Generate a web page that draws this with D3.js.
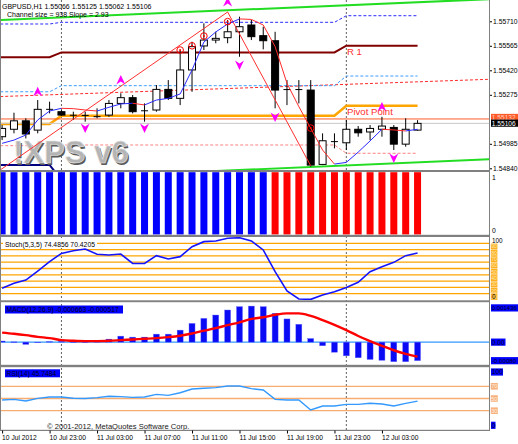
<!DOCTYPE html>
<html><head><meta charset="utf-8">
<script src="https://cdn.jsdelivr.net/npm/d3@7"></script>
<style>body{margin:0;background:#fff}svg{display:block}</style>
</head><body>
<script>
// ---------------- DATA ----------------
const symbolTitle = "GBPUSD,H1  1.55066 1.55125 1.55062 1.55106";
const channelTitle = "Channel size = 938 Slope = 2.93";
const opens  = [1.55027,1.55071,1.55121,1.55066,1.55190,1.55175,1.55155,1.55156,1.55145,1.55155,1.55224,1.55258,1.55180,1.55185,1.55307,1.55254,1.55422,1.55564,1.55599,1.55613,1.55648,1.55688,1.55625,1.55595,1.55305,1.55307,1.55303,1.54863,1.54997,1.54991,1.55071,1.55055,1.55071,1.55082,1.54983,1.55066];
const highs  = [1.55096,1.55169,1.55136,1.55244,1.55234,1.55185,1.55175,1.55175,1.55195,1.55244,1.55284,1.55274,1.55224,1.55333,1.55362,1.55540,1.55589,1.55698,1.55648,1.55718,1.55737,1.55718,1.55678,1.55648,1.55362,1.55362,1.55362,1.55047,1.55047,1.55126,1.55090,1.55096,1.55145,1.55096,1.55136,1.55125];
const lows   = [1.55007,1.55047,1.55017,1.55047,1.55165,1.55150,1.55126,1.55116,1.55136,1.55145,1.55195,1.55165,1.55116,1.55175,1.55244,1.55214,1.55293,1.55540,1.55580,1.55580,1.55500,1.55599,1.55544,1.55195,1.55214,1.55224,1.54850,1.54859,1.54958,1.54948,1.55027,1.55007,1.55027,1.54948,1.54968,1.55062];
const closes = [1.55076,1.55121,1.55043,1.55189,1.55188,1.55155,1.55153,1.55150,1.55146,1.55224,1.55258,1.55175,1.55181,1.55307,1.55254,1.55422,1.55560,1.55599,1.55609,1.55648,1.55678,1.55619,1.55595,1.55303,1.55307,1.55305,1.54859,1.55003,1.54999,1.55071,1.55050,1.55076,1.55090,1.54983,1.55071,1.55106];
const maValues = [1.54988,1.55007,1.55037,1.55126,1.55179,1.55195,1.55193,1.55185,1.55179,1.55201,1.55221,1.55225,1.55215,1.55244,1.55254,1.55280,1.55422,1.55587,1.55647,1.55694,1.55724,1.55721,1.55688,1.55560,1.55343,1.55205,1.55077,1.54948,1.54865,1.54875,1.54936,1.55002,1.55071,1.55067,1.55061,1.55071];
const zigzagBars = [-1, 19, 26];
const zigzagPrices = [1.54789, 1.55765, 1.54855];
const circleBars = [15, 16, 17, 19, 26];
const circlePrices = [1.55540, 1.55565, 1.55623, 1.55708, 1.55078];
const upArrowBars = [3, 10, 19, 32];
const upArrowPrices = [1.55293, 1.55362, 1.55824, 1.55203];
const downArrowBars = [7, 12, 20, 23, 33];
const downArrowPrices = [1.55078, 1.55078, 1.55451, 1.55143, 1.54901];
// daily levels (day of 10 Jul, 11 Jul, 12 Jul)
const dayStartBars = [0, 5, 29];
const levelR2 = [1.55694, 1.55704, 1.55743];
const levelR1 = [1.55497, 1.55526, 1.55566];
const levelM2 = [1.55293, 1.55329, 1.55386];
const levelPP = [1.55102, 1.55151, 1.55210];
const levelM1 = [1.54974, 1.54978, 1.54929];
const levelS1 = [1.54860, 1.54771, 1.54771];
const channelTop0 = 1.55718, channelSlope = 0.0000300, channelWidth = 0.00948;
const midLine0 = 1.55265, midSlope = 0.0000248;
const hLinePrice = 1.55132;
const bidPrice = 1.55106;
const priceTicks = [1.55710, 1.55565, 1.55420, 1.55275, 1.54985, 1.54840];
const trendSignal = [1,1,1,1,1,1,1,1,1,1,1,1,1,1,1,1,1,1,1,1,1,1,1,-1,-1,-1,-1,-1,-1,-1,-1,-1,-1,-1,-1,-1];
const stochValues = [18.5,26.5,31.7,46,60.8,74,78.3,81,72.5,71.4,73,58,58,70.4,65,68.8,84.7,92.6,93.7,97.9,98.9,93.7,79.4,45,14.3,1.6,1,8,13.2,20,28,45,52.9,59.8,70.4,74.4856];
const stochSignalLast = 70.4205;
const stochLevels = [10,20,30,40,50,60,70,80,90];
const macdHist = [0.00004,0.00001,-0.00008,0.00000,0.00002,0.00003,0.00001,0.00001,0.00002,0.000108,0.000215,0.00018,0.00018,0.000287,0.000287,0.00043,0.00067,0.00085,0.00097,0.00115,0.00127,0.00129,0.00127,0.00103,0.00083,0.00064,0.00013,-0.00013,-0.00036,-0.00049,-0.00056,-0.00062,-0.00065,-0.00070,-0.00070,-0.000663];
const macdSignal = [0.00034,0.00030,0.00025,0.00019,0.000144,0.000072,0.000048,0.000036,0.000036,0.000048,0.000072,0.000096,0.00012,0.000144,0.00018,0.00023,0.00031,0.00041,0.0005,0.00061,0.00071,0.00083,0.00089,0.00098,0.00103,0.00103,0.00094,0.00079,0.00062,0.00043,0.00022,0.000036,-0.00013,-0.00029,-0.00042,-0.000517];
const rsiValues = [47.5,48.6,45.9,50.3,52.5,52.5,50.3,50,51.4,53.6,53,51.9,52.5,56.8,55.2,59.5,65.6,66.7,67.8,70.5,70.5,66.1,63.9,48.6,47.5,47.5,31.1,37.7,37.7,40.4,40.4,42.1,41,37.7,42.1,45.7484];
const rsiLevels = [70, 50, 30];
const timeTickBars = [0,4,8,12,16,20,24,28,32];
const timeTickLabels = ["10 Jul 2012","10 Jul 23:00","11 Jul 03:00","11 Jul 07:00","11 Jul 11:00","11 Jul 15:00","11 Jul 19:00","11 Jul 23:00","12 Jul 03:00"];
const separatorBars = [5, 29];

// ---------------- LAYOUT ----------------
const W = 518, H = 444, PR = 489;
const FONT = "'Liberation Sans', Arial, sans-serif";
const svg = d3.select("body").append("svg").attr("width", W).attr("height", H)
  .style("font-family", FONT);
const n = opens.length;
const x = d3.scaleLinear().domain([0, 35]).range([2.1, 417.55]);
const yMain = d3.scaleLinear().domain([1.54830, 1.55836]).range([170, 0]);
const ySig = d3.scaleLinear().domain([0, 1]).range([234.6, 172.2]);
const ySto = d3.scaleLinear().domain([0, 100]).range([300, 237]);
const yMacd = d3.scaleLinear().domain([-0.0008, 0.001436]).range([364.5, 302]);
const yRsi = d3.scaleLinear().domain([0, 100]).range([429, 368]);

const defs = svg.append("defs");
function clip(id, y0, y1) {
  defs.append("clipPath").attr("id", id).append("rect").attr("x", 1).attr("y", y0).attr("width", PR - 1).attr("height", y1 - y0);
  return svg.append("g").attr("clip-path", `url(#${id})`);
}
const dayOf = i => (i >= dayStartBars[2] ? 2 : i >= dayStartBars[1] ? 1 : 0);

// separators (drawn first, under everything)
const sepG = svg.append("g");
separatorBars.forEach(b => {
  sepG.append("line").attr("x1", x(b)).attr("x2", x(b)).attr("y1", 0).attr("y2", 430)
    .attr("stroke", "#606060").attr("stroke-width", 1).attr("stroke-dasharray", "2,2");
});

// ---------------- MAIN PANEL ----------------
const gm = clip("cm", 0, 170);
const lineP = d3.line().x(d => x(d[0])).y(d => yMain(d[1]));
function levelLine(levels, color, width, dash) {
  const pts = [[-1, levels[0]]].concat(d3.range(n).map(i => [i, levels[dayOf(i)]]));
  gm.append("path").attr("d", lineP(pts)).attr("fill", "none").attr("stroke", color)
    .attr("stroke-width", width).attr("stroke-dasharray", dash || null);
}
const chBars = [-1, 42];
gm.append("path").attr("d", lineP(chBars.map(b => [b, channelTop0 + channelSlope * b])))
  .attr("stroke", "#22dd22").attr("stroke-width", 2).attr("fill", "none");
gm.append("path").attr("d", lineP(chBars.map(b => [b, channelTop0 - channelWidth + channelSlope * b])))
  .attr("stroke", "#22dd22").attr("stroke-width", 2).attr("fill", "none");
gm.append("path").attr("d", lineP(chBars.map(b => [b, midLine0 + midSlope * b])))
  .attr("stroke", "#ff2a2a").attr("stroke-width", 1).attr("stroke-dasharray", "3,2").attr("fill", "none");

levelLine(levelR2, "#2a2aff", 1, "3,2");
levelLine(levelM2, "#3c9cff", 1, "3,2");
levelLine(levelM1, "#ff8080", 1, "3,2");
levelLine(levelR1, "#800000", 2);
levelLine(levelPP, "#ffa500", 2.5);
levelLine(levelS1, "#000080", 2);

gm.append("line").attr("x1", 0).attr("x2", PR).attr("y1", yMain(hLinePrice)).attr("y2", yMain(hLinePrice))
  .attr("stroke", "#ff5a28").attr("stroke-width", 1);
gm.append("line").attr("x1", 0).attr("x2", PR).attr("y1", yMain(bidPrice)).attr("y2", yMain(bidPrice))
  .attr("stroke", "#c8c8c8").attr("stroke-width", 1);

// watermark
const wm = gm.append("g").attr("font-family", FONT).attr("font-weight", "bold").attr("font-size", 31);
wm.append("text").attr("x", 14.5).attr("y", 164.5).attr("fill", "#5a5a5a").text("!XPS v6");
wm.append("text").attr("x", 13).attr("y", 163).attr("fill", "#b4b4b4").attr("stroke", "#e8e8e8").attr("stroke-width", 0.6).text("!XPS v6");

// candles
const cg = gm.append("g");
for (let i = 0; i < n; i++) {
  const cx = x(i), o = opens[i], c = closes[i];
  cg.append("line").attr("x1", cx).attr("x2", cx).attr("y1", yMain(highs[i])).attr("y2", yMain(lows[i]))
    .attr("stroke", "#000").attr("stroke-width", 1);
  const top = yMain(Math.max(o, c)), bot = yMain(Math.min(o, c));
  if (bot - top < 1.2) {
    cg.append("line").attr("x1", cx - 3.5).attr("x2", cx + 3.5).attr("y1", (top + bot) / 2).attr("y2", (top + bot) / 2)
      .attr("stroke", "#000").attr("stroke-width", 1);
  } else {
    cg.append("rect").attr("x", cx - 3.5).attr("y", top).attr("width", 7).attr("height", bot - top)
      .attr("fill", c >= o ? "#fff" : "#000").attr("stroke", "#000").attr("stroke-width", 1);
  }
}

gm.append("path").attr("d", lineP(zigzagBars.map((b, k) => [b, zigzagPrices[k]])))
  .attr("fill", "none").attr("stroke", "#ff3030").attr("stroke-width", 1);
for (let i = 0; i < n - 1; i++) {
  gm.append("line").attr("x1", x(i)).attr("x2", x(i + 1)).attr("y1", yMain(maValues[i])).attr("y2", yMain(maValues[i + 1]))
    .attr("stroke", maValues[i + 1] >= maValues[i] ? "#2a2aff" : "#ff2a2a").attr("stroke-width", 1);
}
circleBars.forEach((b, k) => {
  gm.append("circle").attr("cx", x(b)).attr("cy", yMain(circlePrices[k])).attr("r", 3.3)
    .attr("fill", "none").attr("stroke", "#ff0000").attr("stroke-width", 1);
  gm.append("circle").attr("cx", x(b)).attr("cy", yMain(circlePrices[k])).attr("r", 1).attr("fill", "#ff0000");
});
upArrowBars.forEach((b, k) => {
  gm.append("path").attr("transform", `translate(${x(b)},${yMain(upArrowPrices[k])})`)
    .attr("d", "M0,-5 L4.5,4.5 L0,1.5 L-4.5,4.5 Z").attr("fill", "#ff00ff");
});
downArrowBars.forEach((b, k) => {
  gm.append("path").attr("transform", `translate(${x(b)},${yMain(downArrowPrices[k])})`)
    .attr("d", "M0,5 L4.5,-4.5 L0,-1.5 L-4.5,-4.5 Z").attr("fill", "#ff00ff");
});
gm.append("text").attr("x", 347).attr("y", 55).attr("font-size", 9.6).attr("fill", "#ff3030").text("R 1");
gm.append("text").attr("x", 347).attr("y", 115).attr("font-size", 9.6).attr("fill", "#ff3030").text("Pivot Point");
gm.append("text").attr("x", 2).attr("y", 8.5).attr("font-size", 7).attr("fill", "#000").text(symbolTitle);
gm.append("text").attr("x", 7).attr("y", 16.5).attr("font-size", 7).attr("fill", "#000").text(channelTitle);

// price axis
const pAx = svg.append("g").attr("transform", `translate(${PR},0)`)
  .call(d3.axisRight(yMain).tickValues(priceTicks).tickSize(3).tickFormat(d3.format(".5f")));
pAx.select(".domain").remove();
pAx.attr("font-size", 6.8).attr("font-family", FONT);
pAx.selectAll("text").attr("x", 4).attr("fill", "#000");
pAx.selectAll("line").attr("stroke", "#000");
const tag = (yc, fill, txt, col, w, fs) => {
  svg.append("rect").attr("x", 491).attr("y", yc - 3.6).attr("width", w || 27).attr("height", 7.2).attr("fill", fill);
  svg.append("text").attr("x", 491.8).attr("y", yc + 2.4).attr("font-size", fs || 6.6).attr("fill", col).text(txt);
};
tag(yMain(hLinePrice) - 1.5, "#ff5a28", d3.format(".5f")(hLinePrice), "#ffd0c0");
tag(yMain(bidPrice) - 0.2, "#000", d3.format(".5f")(bidPrice), "#fff");

// ---------------- SIGNAL PANEL ----------------
const gs = clip("cs", 172, 234.8);
trendSignal.forEach((v, i) => {
  gs.append("rect").attr("x", x(i) - 3.5).attr("y", ySig(1)).attr("width", 7).attr("height", ySig(0) - ySig(1))
    .attr("fill", v > 0 ? "#0000ff" : "#ff0000");
});
svg.append("text").attr("x", 492).attr("y", 179.5).attr("font-size", 6.8).text("1");
svg.append("text").attr("x", 492).attr("y", 232.5).attr("font-size", 6.8).text("0");

// ---------------- STOCH PANEL ----------------
const gst = clip("cst", 237, 300.3);
stochLevels.forEach(l => {
  gst.append("line").attr("x1", 0).attr("x2", PR).attr("y1", ySto(l)).attr("y2", ySto(l))
    .attr("stroke", "#ffa500").attr("stroke-width", 1.3);
});
gst.append("rect").attr("x", 3).attr("y", 240).attr("width", 94).attr("height", 8).attr("fill", "#fff");
gst.append("text").attr("x", 5).attr("y", 246.5).attr("font-size", 6.8)
  .text(`Stoch(5,3,5) ${stochValues[n - 1].toFixed(4)} ${stochSignalLast.toFixed(4)}`);
gst.append("path").attr("d", d3.line().x((d, i) => x(i)).y(d => ySto(d))(stochValues))
  .attr("fill", "none").attr("stroke", "#1414ff").attr("stroke-width", 1.6);
stochLevels.forEach(l => {
  svg.append("rect").attr("x", 490.8).attr("y", ySto(l) + 0.3).attr("width", 6.6).attr("height", 5.9).attr("fill", "#ffb020");
  svg.append("text").attr("x", 491.2).attr("y", ySto(l) + 5.1).attr("font-size", 5.2).attr("fill", "#ffe6b0").text(l);
});
svg.append("text").attr("x", 492).attr("y", 243.2).attr("font-size", 6.4).text("100");
svg.append("text").attr("x", 492).attr("y", 298.6).attr("font-size", 6.4).text("0");

// ---------------- MACD PANEL ----------------
const gmc = clip("cmc", 302, 364.8);
gmc.append("line").attr("x1", 0).attr("x2", PR).attr("y1", yMacd(0)).attr("y2", yMacd(0))
  .attr("stroke", "#3399ff").attr("stroke-width", 1.2);
macdHist.forEach((v, i) => {
  const y0 = yMacd(Math.max(v, 0)), y1 = yMacd(Math.min(v, 0));
  gmc.append("rect").attr("x", x(i) - 3).attr("y", y0).attr("width", 6).attr("height", Math.max(y1 - y0, 0.6))
    .attr("fill", "#0a0af5").attr("stroke", "#6a6aff").attr("stroke-width", 0.4);
});
gmc.append("path").attr("d", d3.line().curve(d3.curveMonotoneX).x((d, i) => x(i)).y(d => yMacd(d))(macdSignal))
  .attr("fill", "none").attr("stroke", "#ff0000").attr("stroke-width", 2.4);
gmc.append("rect").attr("x", 5).attr("y", 305.5).attr("width", 118).attr("height", 8).attr("fill", "#0000ff");
gmc.append("text").attr("x", 6.5).attr("y", 312).attr("font-size", 6.8).attr("fill", "#000018")
  .text(`MACD(12,26,9) ${macdHist[n - 1].toFixed(6)} ${macdSignal[n - 1].toFixed(6)}`);
tag(307.9, "#0000ff", "0.001436", "#000018", 27, 6.0);
tag(yMacd(0), "#0000ff", "0.00", "#000018", 14.5);
tag(360.7, "#0000ff", "-0.00080", "#000018", 27, 6.2);

// ---------------- RSI PANEL ----------------
const gr = clip("cr", 367.5, 429.8);
rsiLevels.forEach(l => {
  gr.append("line").attr("x1", 0).attr("x2", PR).attr("y1", yRsi(l)).attr("y2", yRsi(l))
    .attr("stroke", "#f7ac70").attr("stroke-width", 1.3);
});
gr.append("path").attr("d", d3.line().x((d, i) => x(i)).y(d => yRsi(d))(rsiValues))
  .attr("fill", "none").attr("stroke", "#3399ff").attr("stroke-width", 1.4);
gr.append("rect").attr("x", 5).attr("y", 369.3).attr("width", 55).attr("height", 8).attr("fill", "#0000ff");
gr.append("text").attr("x", 6.5).attr("y", 375.8).attr("font-size", 6.8).attr("fill", "#000018")
  .text(`RSI(14) ${rsiValues[n - 1].toFixed(4)}`);
tag(372, "#0000ff", "100", "#000018", 12);
rsiLevels.forEach(l => {
  svg.append("rect").attr("x", 490.8).attr("y", yRsi(l) - 3.3).attr("width", 7).attr("height", 6.6).attr("fill", "#f7b27e");
  svg.append("text").attr("x", 491.2).attr("y", yRsi(l) + 2.1).attr("font-size", 5.5).attr("fill", "#fff0e0").text(l);
});
tag(425.3, "#0000ff", "0", "#000018", 4.5);
svg.append("text").attr("x", 47).attr("y", 428.5).attr("font-size", 7.6).attr("fill", "#202020")
  .text("© 2001-2012, MetaQuotes Software Corp.");

// ---------------- BORDERS ----------------
const bc = "#808080";
[[170, 2], [234.8, 2.2], [300.3, 1.9], [364.8, 2.4], [429.8, 1.2]].forEach(([y, h]) => {
  svg.append("rect").attr("x", 0).attr("y", y).attr("width", PR + 1).attr("height", h).attr("fill", bc);
});
svg.append("line").attr("x1", 0.5).attr("x2", 0.5).attr("y1", 0).attr("y2", 431).attr("stroke", bc);
svg.append("line").attr("x1", PR + 0.5).attr("x2", PR + 0.5).attr("y1", 0).attr("y2", 431).attr("stroke", bc);

// ---------------- TIME AXIS ----------------
const tAx = svg.append("g").attr("transform", "translate(0,430.5)")
  .call(d3.axisBottom(x).tickValues(timeTickBars).tickSize(3).tickFormat((d, i) => timeTickLabels[i]));
tAx.select(".domain").remove();
tAx.attr("font-size", 6.7).attr("font-family", FONT);
tAx.selectAll("text").attr("text-anchor", "start").attr("x", -0.5).attr("y", 4.5).attr("fill", "#000");
tAx.selectAll("line").attr("stroke", "#000");
</script>
</body></html>
